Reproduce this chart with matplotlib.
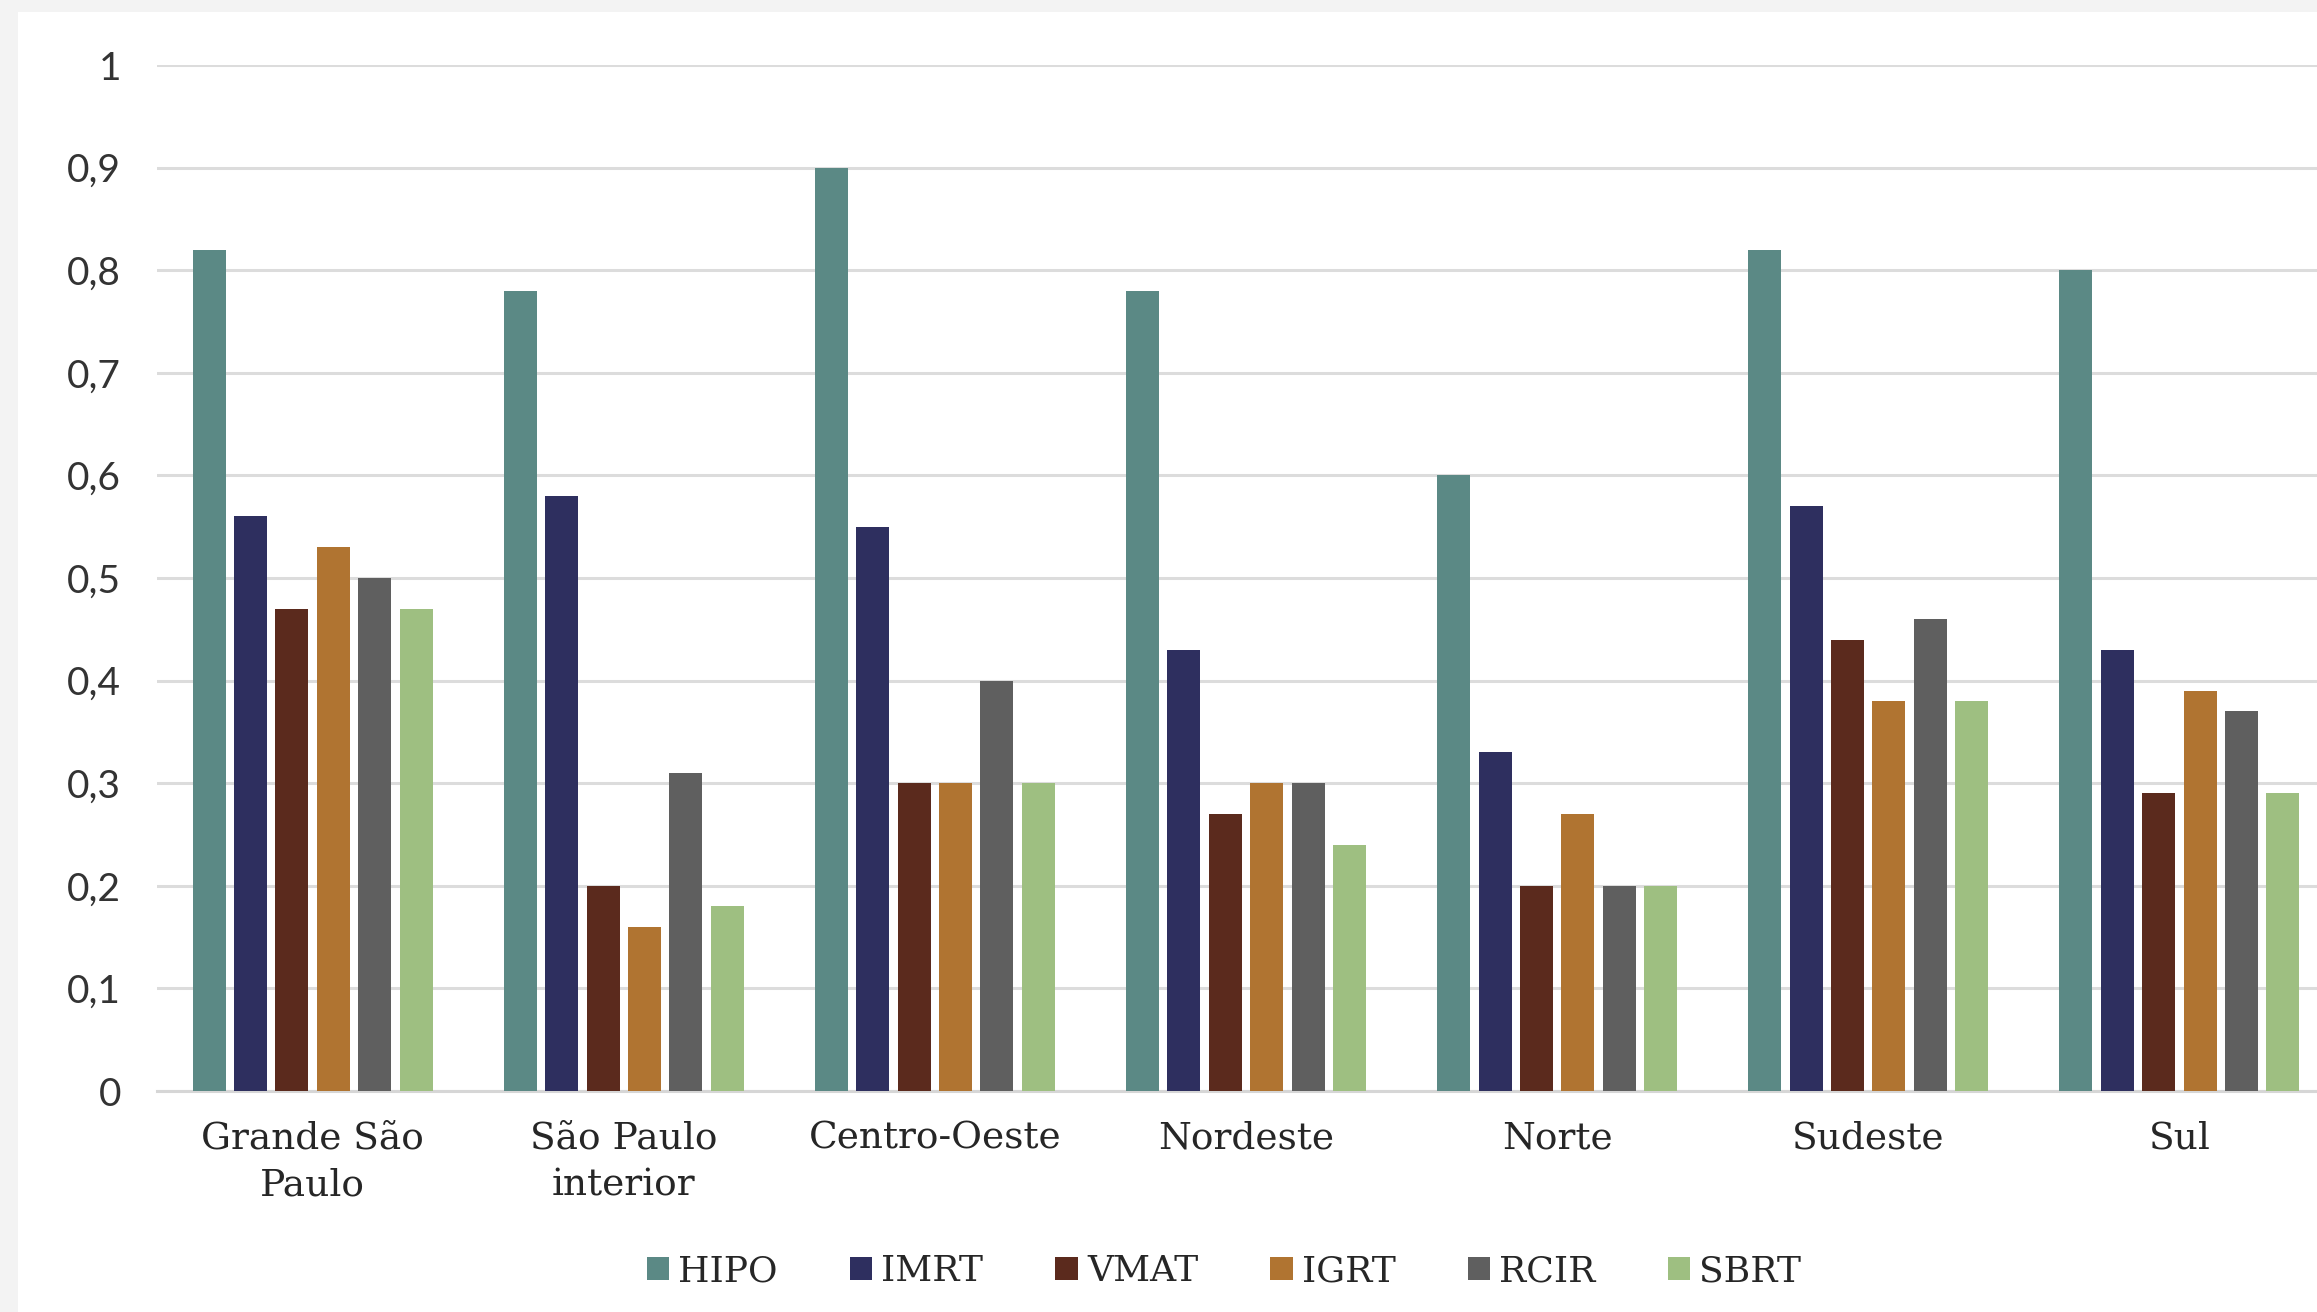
import matplotlib
matplotlib.use("Agg")
import matplotlib.pyplot as plt
from matplotlib.patches import Rectangle
import numpy as np

# Regions (x-axis categories)
regions = ["Grande São\nPaulo", "São Paulo\ninterior", "Centro-Oeste", "Nordeste",
           "Norte", "Sudeste", "Sul"]

# Techniques (series)
techniques = ["HIPO", "IMRT", "VMAT", "IGRT", "RCIR", "SBRT"]

hipo = [0.82, 0.78, 0.90, 0.78, 0.60, 0.82, 0.80]
imrt = [0.56, 0.58, 0.55, 0.43, 0.33, 0.57, 0.43]
vmat = [0.47, 0.20, 0.30, 0.27, 0.20, 0.44, 0.29]
igrt = [0.53, 0.16, 0.30, 0.30, 0.27, 0.38, 0.39]
rcir = [0.50, 0.31, 0.40, 0.30, 0.20, 0.46, 0.37]
sbrt = [0.47, 0.18, 0.30, 0.24, 0.20, 0.38, 0.29]

y_ticks = [0, 0.1, 0.2, 0.3, 0.4, 0.5, 0.6, 0.7, 0.8, 0.9, 1]
y_tick_labels = ["0", "0,1", "0,2", "0,3", "0,4", "0,5", "0,6", "0,7", "0,8", "0,9", "1"]

series = [hipo, imrt, vmat, igrt, rcir, sbrt]
colors = ["#5b8985", "#2e2f5f", "#5b2a1d", "#b07431", "#5f5f5f", "#9ebf81"]

W, H = 2317, 1312
fig = plt.figure(figsize=(W / 100, H / 100), dpi=100)
fig.patch.set_facecolor("#f3f3f3")
# white chart panel
fig.add_artist(Rectangle((18 / W, 0), 1, 1 - 12 / H, transform=fig.transFigure,
                         facecolor="white", edgecolor="none", zorder=0))

left_px, right_px = 157, 2335
top_px, zero_px = 65, 1091
ax = fig.add_axes([left_px / W, 1 - zero_px / H,
                   (right_px - left_px) / W, (zero_px - top_px) / H])
ax.set_facecolor("none")

x = np.arange(len(regions))
pitch = 0.133
width = 0.106
for j, (vals, name, c) in enumerate(zip(series, techniques, colors)):
    ax.bar(x + (j - 2.5) * pitch, vals, width=width, color=c, label=name, zorder=3)

ax.set_xlim(-0.5, len(regions) - 0.5)
ax.set_ylim(0, 1)
ax.set_yticks(y_ticks)
ax.set_yticklabels(y_tick_labels, fontfamily="Lato", fontsize=28, color="#333333")
ax.tick_params(axis="y", length=0, pad=26)
ax.set_xticks(x)
ax.set_xticklabels(regions, fontfamily="DejaVu Serif", fontsize=27, color="#262626",
                   linespacing=1.4)
ax.tick_params(axis="x", length=0, pad=21)

ax.grid(axis="y", color="#dcdcdc", linewidth=2.2, zorder=0)
ax.set_axisbelow(True)
for s in ["top", "right", "left"]:
    ax.spines[s].set_visible(False)
ax.spines["bottom"].set_color("#d6d6d6")
ax.spines["bottom"].set_linewidth(2.2)

leg = fig.legend(loc="center", bbox_to_anchor=(1224 / W, 1 - 1271 / H), ncol=6,
                 frameon=False, prop={"family": "DejaVu Serif", "size": 26},
                 handlelength=0.62, handleheight=0.62, handletextpad=0.25,
                 columnspacing=2.0, labelcolor="#262626")

fig.savefig("out.png", dpi=100, facecolor=fig.get_facecolor())
